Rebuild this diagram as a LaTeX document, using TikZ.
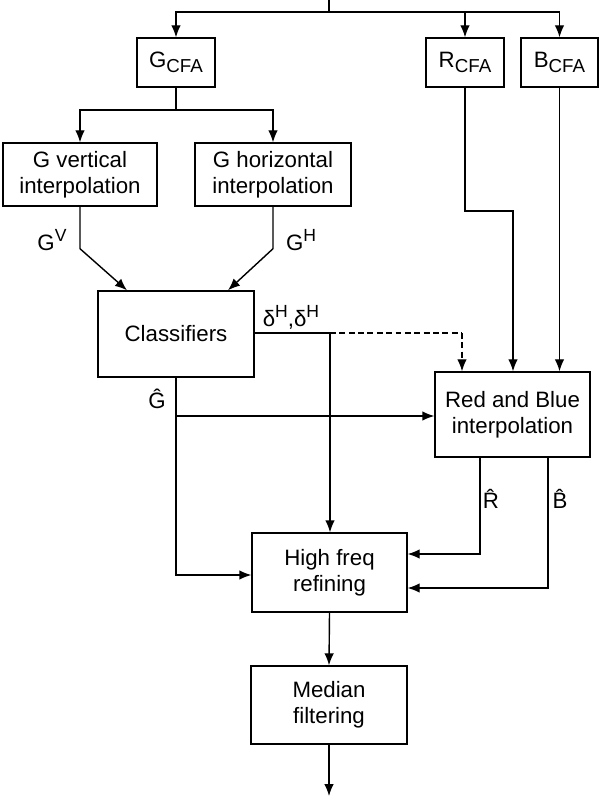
\documentclass[tikz,border=0pt]{standalone}
\usepackage{fontspec}
\setmainfont{Liberation Sans}
\usetikzlibrary{arrows.meta,calc}
\newcommand{\lowtxt}[1]{\raisebox{-0.45ex}{\fontsize{16}{16}\selectfont #1}}
\newcommand{\hightxt}[1]{\raisebox{0.75ex}{\fontsize{15}{15}\selectfont #1}}

\begin{document}
\begin{tikzpicture}[x=0.03cm, y=-0.03cm, line width=1.2pt,
		>={Latex[length=3.6mm,width=2.9mm]},
		blk/.style={draw, align=center, inner sep=0pt, font=\fontsize{19}{22.5}\selectfont},
		lbl/.style={font=\fontsize{19}{22.5}\selectfont, inner sep=0pt}]
	\useasboundingbox (0,0) rectangle (599,796);

	\node[blk, minimum width=2.34cm, minimum height=1.47cm] (gcfa) at (176,62.5) {G\lowtxt{CFA}};
	\node[blk, minimum width=2.34cm, minimum height=1.47cm] (rcfa) at (465,62.5) {R\lowtxt{CFA}};
	\node[blk, minimum width=2.31cm, minimum height=1.47cm] (bcfa) at (559.5,62.5) {B\lowtxt{CFA}};

	\node[blk, minimum width=4.62cm, minimum height=1.89cm] (gvert) at (80,174.5) {G vertical\\interpolation};
	\node[blk, minimum width=4.68cm, minimum height=1.89cm] (ghor) at (273,174.5) {G horizontal\\interpolation};

	\node[blk, minimum width=4.68cm, minimum height=2.58cm] (cls) at (176,334) {Classifiers};
	\node[blk, minimum width=4.65cm, minimum height=2.55cm] (rb) at (512.5,414.5) {Red and Blue\\interpolation};
	\node[blk, minimum width=4.65cm, minimum height=2.37cm] (hf) at (329.5,572.5) {High freq\\refining};
	\node[blk, minimum width=4.68cm, minimum height=2.34cm] (med) at (329,705) {Median\\filtering};

	\coordinate (in) at (329,0);
	\coordinate (split) at (329,12);
	\coordinate (gsplit) at (176,110);
	\coordinate (dlt) at (330,333);
	\coordinate (dturn) at (462,333);
	\coordinate (rturn) at (513,211);
	\coordinate (ghat) at (176,416);
	\coordinate (rhat) at (480,554);
	\coordinate (bhat) at (548,588);
	\coordinate (out) at (329,796);

	% input split
	\draw (in) -- (split);
	\draw[->] (split) -| (gcfa.north);
	\draw[->] (split) -| (rcfa.north);
	\draw[->] (split) -| (bcfa.north);

	% green interpolation
	\draw (gcfa.south) -- (gsplit);
	\draw[->] (gsplit) -| (gvert.north);
	\draw[->] (gsplit) -| (ghor.north);
	\draw[->] (gvert.south) -- ++(0,42) -- ($(cls.north)+(-49,0)$);
	\draw[->] (ghor.south) -- ++(0,42) -- ($(cls.north)+(52,0)$);
	\node[lbl] (gv) at (52,240) {G\hightxt{V}};
	\node[lbl] (gh) at (301,240) {G\hightxt{H}};

	% classifier outputs
	\draw (cls.east |- dlt) -- (dlt);
	\draw[dash pattern=on 5pt off 3pt] (dlt) -- (dturn);
	\draw[dash pattern=on 5pt off 3pt, ->] (dturn) -- (dturn |- rb.north);
	\draw[->] (dlt) -- (dlt |- hf.north);
	\node[lbl] (dh) at (291,317) {δ\hightxt{H},δ\hightxt{H}};

	\draw (cls.south) -- (ghat);
	\draw[->] (ghat) -- (ghat -| rb.west);
	\draw[->] (ghat) |- ($(hf.west)+(0,2.5)$);
	\node[lbl] (gh2) at (157,399) {\^{G}};

	% red and blue
	\draw[->] (rcfa.south) |- (rturn) -- (rturn |- rb.north);
	\draw[->] (bcfa.south) -- (bcfa.south |- rb.north);
	\draw[->] (rhat |- rb.south) -- (rhat) -- (rhat -| hf.east);
	\draw[->] (bhat |- rb.south) -- (bhat) -- (bhat -| hf.east);
	\node[lbl] (rh) at (491,499) {\^{R}};
	\node[lbl] (bh) at (560,499) {\^{B}};

	% output
	\draw[->] (hf.south) -- (med.north);
	\draw[->] (med.south) -- (out);
\end{tikzpicture}
\end{document}
